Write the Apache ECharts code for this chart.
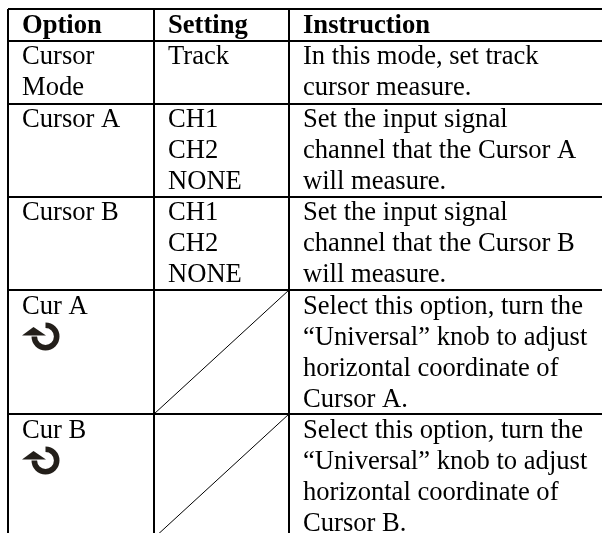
<!DOCTYPE html>
<html><head><meta charset="utf-8">
<style>html,body{margin:0;padding:0;background:#fff}#c{width:602px;height:533px}</style>
<script src="https://cdn.jsdelivr.net/npm/echarts@6/dist/echarts.min.js"></script>
</head><body><div id="c"></div>
<script>
const headers = ["Option", "Setting", "Instruction"];
const optionCells = [["Cursor", "Mode"], ["Cursor A"], ["Cursor B"], ["Cur A"], ["Cur B"]];
const settingCells = [["Track"], ["CH1", "CH2", "NONE"], ["CH1", "CH2", "NONE"], [], []];
const instructionCells = [
  ["In this mode, set track", "cursor measure."],
  ["Set the input signal", "channel that the Cursor A", "will measure."],
  ["Set the input signal", "channel that the Cursor B", "will measure."],
  ["Select this option, turn the", "\u201CUniversal\u201D knob to adjust", "horizontal coordinate of", "Cursor A."],
  ["Select this option, turn the", "\u201CUniversal\u201D knob to adjust", "horizontal coordinate of", "Cursor B."]
];
const knobRows = [3, 4];
const slashRows = [3, 4];
const columnEdges = [8, 154, 289, 602];
const rowEdges = [9, 41, 104, 197, 290, 414, 538];
const firstBaseline = [24, 24, 24, 25, 25];

const FS = 26.6, LH = 31, PAD = 14, DESC = 6;
const textData = [];
headers.forEach((t, c) => textData.push([columnEdges[c] + PAD, rowEdges[0] + 25 + DESC, t, 1]));
[optionCells, settingCells, instructionCells].forEach((col, c) => col.forEach((lines, r) => lines.forEach((t, i) => {
  textData.push([columnEdges[c] + PAD, rowEdges[r + 1] + firstBaseline[r] + DESC + i * LH, t, 0]);
})));
const ruleData = [];
rowEdges.slice(0, 6).forEach(y => ruleData.push([columnEdges[0], y, columnEdges[3], y, 2]));
columnEdges.slice(0, 3).forEach(x => ruleData.push([x, rowEdges[0], x, rowEdges[6], 2]));
slashRows.forEach(r => ruleData.push([columnEdges[1], rowEdges[r + 2], columnEdges[2], rowEdges[r + 1], 1]));
const knobData = knobRows.map(r => [45.5, rowEdges[r + 1] + 46.5]);

const chart = echarts.init(document.getElementById('c'), null, {renderer: 'canvas'});
chart.setOption({
  animation: false,
  backgroundColor: '#fff',
  grid: {left: 0, right: 0, top: 0, bottom: 0},
  xAxis: {type: 'value', min: 0, max: 602, show: false},
  yAxis: {type: 'value', min: 0, max: 533, inverse: true, show: false},
  series: [
    {type: 'custom', coordinateSystem: 'cartesian2d', clip: true, silent: true, data: ruleData,
     encode: {x: [0, 2], y: [1, 3]},
     renderItem(p, api) {
       const a = api.coord([api.value(0), api.value(1)]), b = api.coord([api.value(2), api.value(3)]);
       return {type: 'line', shape: {x1: a[0], y1: a[1], x2: b[0], y2: b[1]}, style: {stroke: '#000', lineWidth: api.value(4)}};
     }},
    {type: 'custom', coordinateSystem: 'cartesian2d', silent: true, data: knobData,
     encode: {x: 0, y: 1},
     renderItem(p, api) {
       const c = api.coord([api.value(0), api.value(1)]);
       return {type: 'group', children: [
         {type: 'arc', shape: {cx: c[0], cy: c[1], r: 11.2, startAngle: -1.57, endAngle: 3.14, clockwise: true},
          style: {stroke: '#231f1a', fill: null, lineWidth: 5.6}},
         {type: 'polygon', shape: {points: [[c[0]-23.5, c[1]-1], [c[0]-12, c[1]-9.5], [c[0]+0.5, c[1]-1]]}, style: {fill: '#231f1a'}}
       ]};
     }},
    {type: 'custom', coordinateSystem: 'cartesian2d', silent: true, data: textData,
     dimensions: ['x', 'y', {name: 'text', type: 'ordinal'}, 'bold'],
     encode: {x: 0, y: 1},
     renderItem(p, api) {
       const c = api.coord([api.value(0), api.value(1)]);
       const row = textData[p.dataIndex];
       return {type: 'text', x: c[0], y: c[1], style: {
         text: row[2], fill: '#000', textAlign: 'left', textVerticalAlign: 'bottom', verticalAlign: 'bottom',
         font: (row[3] ? 'bold ' : '') + FS + 'px "Liberation Serif"'
       }};
     }}
  ]
});
</script></body></html>
